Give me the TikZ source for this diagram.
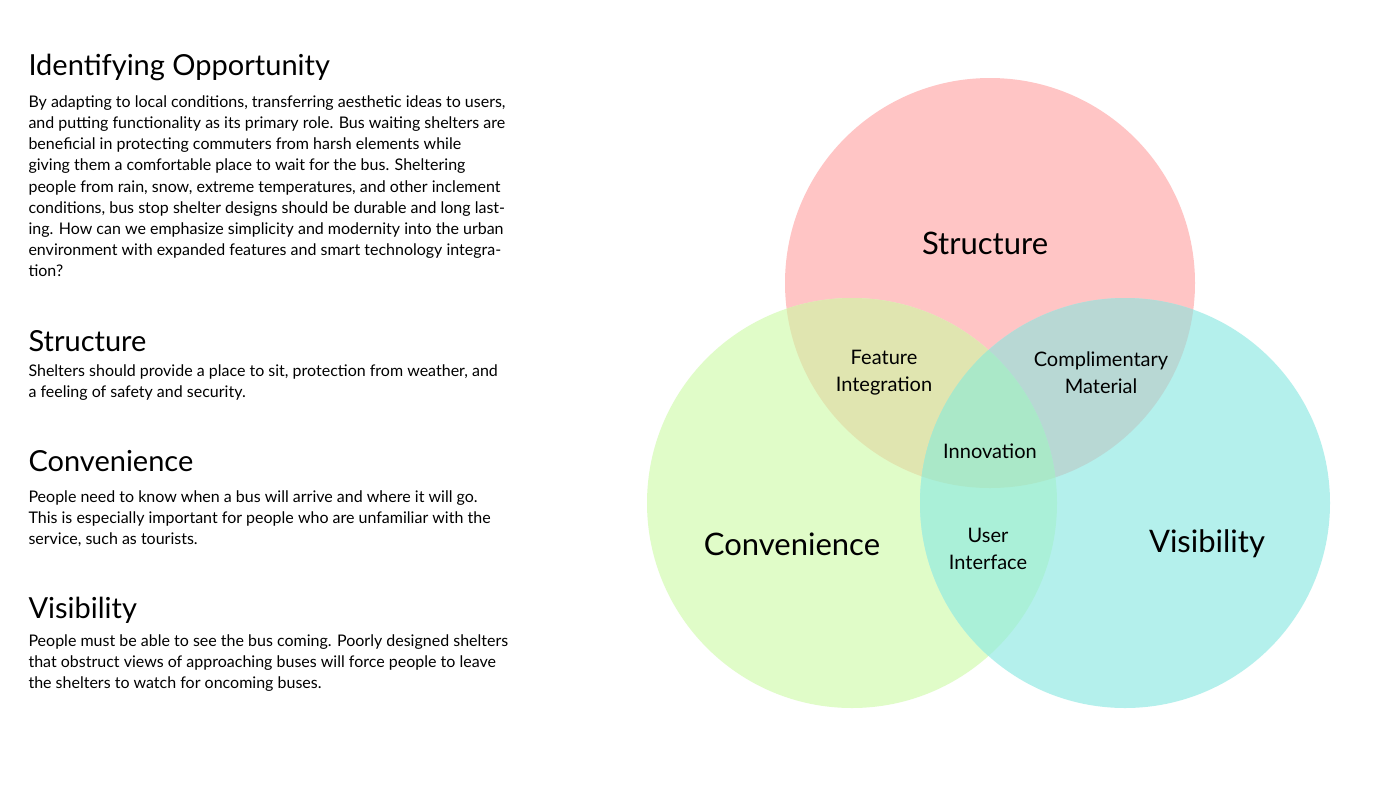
\documentclass[tikz,border=0pt]{standalone}
\usepackage{fontspec}
\setmainfont{Lato}
\begin{document}
\begin{tikzpicture}[x=1pt,y=-1pt,
  head/.style={anchor=base west,font=\fontsize{29}{34}\selectfont},
  body/.style={anchor=base west,font=\fontsize{16}{21.2}\selectfont,align=left},
  big/.style={font=\fontsize{31}{36}\selectfont},
  mid/.style={font=\fontsize{20}{27}\selectfont,align=center}]
\useasboundingbox (0,0) rectangle (1400,788);
\fill[white] (0,0) rectangle (1400,788);
\def\S{(990,283) circle (205)}
\def\C{(852,503) circle (205)}
\def\V{(1125,503) circle (205)}
\fill[fill={rgb,255:red,255;green,197;blue,197}] \S;
\fill[fill={rgb,255:red,224;green,252;blue,200}] \C;
\fill[fill={rgb,255:red,180;green,240;blue,236}] \V;
\begin{scope}\clip \S; \fill[fill={rgb,255:red,224;green,229;blue,176}] \C; \end{scope}
\begin{scope}\clip \S; \fill[fill={rgb,255:red,184;green,216;blue,212}] \V; \end{scope}
\begin{scope}\clip \C; \fill[fill={rgb,255:red,170;green,240;blue,216}] \V; \end{scope}
\begin{scope}\clip \S; \clip \C; \fill[fill={rgb,255:red,170;green,232;blue,200}] \V; \end{scope}
\node[big] (s) at (985,243) {Structure};
\node[big] (c) at (792,544) {Convenience};
\node[big] (v) at (1207,544) {Visibility};
\node[mid] (fi) at (884,373) {Feature\\Integration};
\node[mid] (cm) at (1101,373) {Complimentary\\Material};
\node[mid] (in) at (990,451) {Innovation};
\node[mid] (ui) at (988,549) {User\\Interface};
\node[head] (h1) at (25,75) {Identifying Opportunity};
\node[body,anchor=north west] (p1) at (25,92) {By adapting to local conditions, transferring aesthetic ideas to users,\\and putting functionality as its primary role. Bus waiting shelters are\\beneficial in protecting commuters from harsh elements while\\giving them a comfortable place to wait for the bus. Sheltering\\people from rain, snow, extreme temperatures, and other inclement\\conditions, bus stop shelter designs should be durable and long last-\\ing. How can we emphasize simplicity and modernity into the urban\\environment with expanded features and smart technology integra-\\tion?};
\node[head] (h2) at (25,351) {Structure};
\node[body,anchor=north west] (p2) at (25,361) {Shelters should provide a place to sit, protection from weather, and\\a feeling of safety and security.};
\node[head] (h3) at (25,471) {Convenience};
\node[body,anchor=north west] (p3) at (25,487) {People need to know when a bus will arrive and where it will go.\\This is especially important for people who are unfamiliar with the\\service, such as tourists.};
\node[head] (h4) at (25,618) {Visibility};
\node[body,anchor=north west] (p4) at (25,631) {People must be able to see the bus coming. Poorly designed shelters\\that obstruct views of approaching buses will force people to leave\\the shelters to watch for oncoming buses.};
\end{tikzpicture}
\end{document}
